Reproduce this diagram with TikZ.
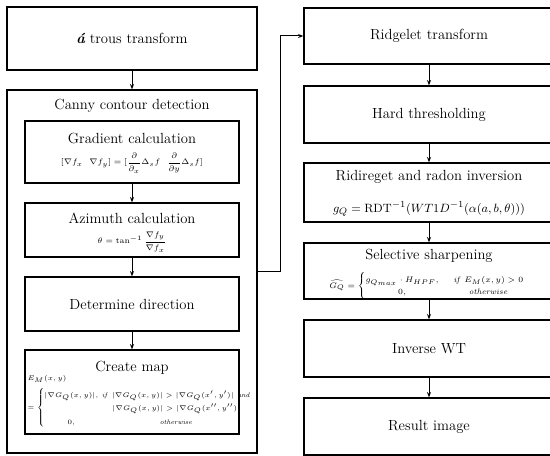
\documentclass[tikz,border=0pt]{standalone}
\usepackage{amsmath}
\usetikzlibrary{arrows.meta}

\tikzset{every picture/.style={line width=0.75pt}}

\begin{document}
\begin{tikzpicture}[x=0.75pt,y=0.75pt,yscale=-1,xscale=1,
  box/.style={draw, line width=0.9pt, inner sep=0pt, font=\fontsize{11}{13}\selectfont},
  wide/.style={box, minimum width=187.5pt},
  narrow/.style={box, minimum width=160.5pt},
  ttl/.style={inner sep=0pt, font=\fontsize{11}{13}\selectfont},
  eqn/.style={inner sep=0pt, font=\fontsize{5.6}{7}\selectfont},
  flow/.style={-{Stealth[length=4pt,width=3pt]}, line width=0.75pt}]
	\useasboundingbox (0,0) rectangle (550,456);

	% Left column
	\node[wide, minimum height=47.25pt] (trous) at (132,38.5) {{\bfseries\itshape á} trous transform};
	\node[wide, minimum height=272.25pt] (canny) at (132,271.5) {};
	\node[ttl] (cannyt) at (132,106) {Canny contour detection};

	\node[narrow, minimum height=46.5pt] (grad) at (132,152) {};
	\node[ttl] (gradt) at (132,138) {Gradient calculation};
	\node[eqn, font=\fontsize{6}{7}\selectfont] (gradf) at (132,163) {$[\nabla f_x\ \ \nabla f_y] = [\dfrac{\partial}{\partial_x}\Delta_s f\ \ \dfrac{\partial}{\partial y}\Delta_s f]$};

	\node[narrow, minimum height=40.5pt] (azim) at (132,230) {};
	\node[ttl] (azimt) at (132,218) {Azimuth calculation};
	\node[eqn] (azimf) at (132,242) {$\theta = \tan^{-1}\dfrac{\nabla f_y}{\nabla f_x}$};

	\node[narrow, minimum height=40.5pt] (dir) at (132,304) {Determine direction};

	\node[narrow, minimum height=63pt] (emap) at (132,392) {};
	\node[ttl] (emapt) at (132,368) {Create map};
	\node[eqn, font=\fontsize{5.4}{7}\selectfont, anchor=west, align=left] (emapf) at (27,402) {$E_M(x,y)$\\[2.5pt]
	  $=\left\{\renewcommand{\arraystretch}{1.45}\begin{array}{@{}c@{\enspace}c@{}}
	    |\nabla G_Q(x,y)|, & \mathit{if}\ |\nabla G_Q(x,y)| > |\nabla G_Q(x',y')|\ \mathit{and}\\
	    & |\nabla G_Q(x,y)| > |\nabla G_Q(x'',y'')|\\
	    0, & \mathit{otherwise}
	  \end{array}\right.$};

	% Right column
	\node[wide, minimum height=42pt] (ridgelet) at (429,36) {Ridgelet transform};
	\node[wide, minimum height=42.75pt] (hard) at (429,114.5) {Hard thresholding};

	\node[wide, minimum height=44.25pt] (radon) at (429,192.5) {};
	\node[ttl] (radont) at (429,177) {Ridireget and radon inversion};
	\node[inner sep=0pt, font=\fontsize{9.5}{11}\selectfont] (radonf) at (429,209) {$g_Q = \mathrm{RDT}^{-1}(WT1D^{-1}(\alpha(a,b,\theta)))$};

	\node[wide, minimum height=42pt] (sharp) at (429,271) {};
	\node[ttl] (sharpt) at (429,256) {Selective sharpening};
	\node[eqn] (sharpf) at (427,286) {$\widehat{G_Q} = \left\{\renewcommand{\arraystretch}{1.35}\begin{array}{@{}c@{\qquad}c@{}}
	    g_{Q_{max}}\cdot H_{HPF}, & \mathit{if}\ E_M(x,y) > 0\\
	    0, & \mathit{otherwise}
	  \end{array}\right.$};

	\node[wide, minimum height=42.75pt] (invwt) at (429,348.5) {Inverse WT};
	\node[wide, minimum height=42.75pt] (result) at (429,426.5) {Result image};

	% Arrows
	\draw[flow] (trous) -- (canny);
	\draw[flow] (grad) -- (azim);
	\draw[flow] (azim) -- (dir);
	\draw[flow] (dir) -- (emap);
	\draw[flow] (canny.east) -- ++(23,0) |- (ridgelet.west);
	\draw[flow] (ridgelet) -- (hard);
	\draw[flow] (hard) -- (radon);
	\draw[flow] (radon) -- (sharp);
	\draw[flow] (sharp) -- (invwt);
	\draw[flow] (invwt) -- (result);

\end{tikzpicture}
\end{document}
